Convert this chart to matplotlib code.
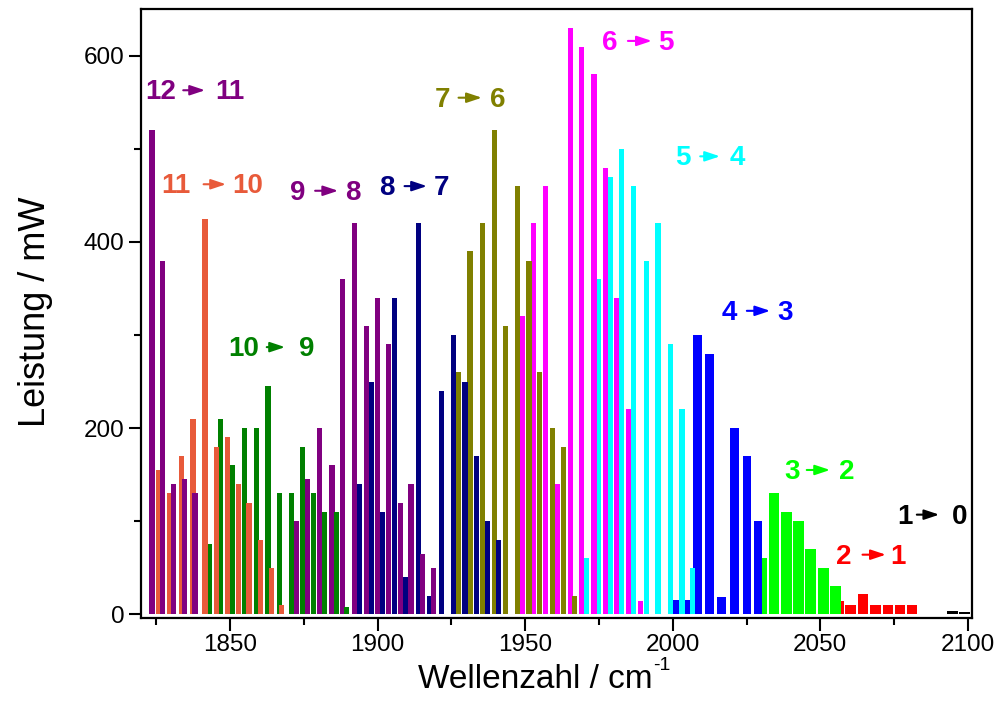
import matplotlib
matplotlib.use("Agg")
import matplotlib.pyplot as plt
from matplotlib.ticker import MultipleLocator

plt.rcParams['font.family'] = ['Liberation Sans', 'DejaVu Sans']

# ---- data (wavenumber / cm^-1, power / mW) ----
x_2_1 = [2056.3, 2060.2, 2064.4, 2068.7, 2072.9, 2077.0, 2081.1]
y_2_1 = [14, 10, 22, 10, 10, 10, 10]

x_3_2 = [2030.2, 2034.3, 2038.4, 2042.6, 2046.8, 2051.1, 2055.0]
y_3_2 = [60, 130, 110, 100, 70, 50, 30]

x_4_3 = [2000.8, 2005.0, 2008.4, 2012.4, 2016.5, 2020.9, 2025.1, 2029.0]
y_4_3 = [15, 15, 300, 280, 18, 200, 170, 100]

x_5_4 = [1970.6, 1974.8, 1978.8, 1982.7, 1986.7, 1991.0, 1995.0, 1999.1, 2003.1, 2006.8]
y_5_4 = [60, 360, 470, 500, 460, 380, 420, 290, 220, 50]

x_6_5 = [1949.2, 1952.8, 1957.0, 1961.0, 1965.2, 1969.2, 1973.3, 1977.1, 1981.0, 1985.0, 1989.0]
y_6_5 = [320, 420, 460, 140, 630, 610, 580, 480, 340, 220, 14]

x_7_6 = [1927.4, 1931.3, 1935.5, 1939.6, 1943.4, 1947.4, 1951.3, 1954.7, 1959.2, 1962.9, 1966.6]
y_7_6 = [260, 390, 420, 520, 310, 460, 380, 260, 200, 180, 20]

x_8_7 = [1893.7, 1897.8, 1901.7, 1905.7, 1909.6, 1913.8, 1917.5, 1921.7, 1925.6, 1929.6, 1933.4, 1937.2, 1941.0]
y_8_7 = [140, 250, 110, 340, 40, 420, 20, 240, 300, 250, 170, 100, 80]

x_9_8 = [1872.6, 1876.3, 1880.3, 1884.5, 1888.0, 1892.1, 1896.1, 1900.0, 1903.8, 1907.6, 1911.3, 1915.2, 1918.9]
y_9_8 = [100, 145, 200, 160, 360, 420, 310, 340, 290, 120, 140, 65, 50]

x_10_9 = [1843.0, 1846.8, 1850.9, 1854.8, 1859.0, 1862.8, 1866.7, 1870.7, 1874.6, 1878.2, 1881.9, 1885.9, 1889.5]
y_10_9 = [75, 210, 160, 200, 200, 245, 130, 130, 180, 130, 110, 110, 8]

x_11_10 = [1825.7, 1829.4, 1833.6, 1837.4, 1841.5, 1845.3, 1849.1, 1852.8, 1856.4, 1860.2, 1863.9, 1867.5]
y_11_10 = [155, 130, 170, 210, 425, 180, 190, 140, 120, 80, 50, 10]

x_12_11 = [1823.5, 1827.2, 1830.8, 1834.5, 1838.1]
y_12_11 = [520, 380, 140, 145, 130]

x_1_0 = [2094.7, 2098.9]
y_1_0 = [4, 2.5]

# band: (x, y, colour, bar width, left label, right label)
bands = [
    (x_1_0, y_1_0, '#000000', 3.6, '1', '0'),
    (x_2_1, y_2_1, '#FF0000', 3.6, '2', '1'),
    (x_3_2, y_3_2, '#00FF00', 3.7, '3', '2'),
    (x_4_3, y_4_3, '#0000FF', 2.8, '4', '3'),
    (x_5_4, y_5_4, '#00FFFF', 1.75, '5', '4'),
    (x_6_5, y_6_5, '#FF00FF', 1.75, '6', '5'),
    (x_7_6, y_7_6, '#808000', 1.75, '7', '6'),
    (x_8_7, y_8_7, '#000080', 1.75, '8', '7'),
    (x_9_8, y_9_8, '#800080', 1.75, '9', '8'),
    (x_10_9, y_10_9, '#008000', 1.75, '10', '9'),
    (x_11_10, y_11_10, '#E85A3A', 1.75, '11', '10'),
    (x_12_11, y_12_11, '#800080', 1.75, '12', '11'),
]

# label layout: left-number centre x, arrow start x, arrow end x, right-number centre x, y
label_pos = [
    (2078.6, 2082.7, 2090.3, 2097.2, 105),
    (2058.1, 2064.3, 2072.2, 2076.3, 62),
    (2040.3, 2045.4, 2053.3, 2059.0, 153),
    (2019.2, 2025.1, 2033.0, 2038.0, 324),
    (2003.3, 2009.3, 2016.0, 2021.8, 490),
    (1978.7, 1984.8, 1992.9, 1997.5, 614),
    (1922.0, 1927.4, 1935.3, 1940.6, 553),
    (1903.1, 1909.1, 1916.7, 1921.7, 458),
    (1872.8, 1878.8, 1886.6, 1891.5, 453),
    (1854.7, 1862.4, 1868.6, 1876.0, 285),
    (1831.5, 1841.0, 1848.6, 1855.8, 460),
    (1826.4, 1834.1, 1841.5, 1850.0, 561),
]

fig = plt.figure(figsize=(9.96, 7.14), dpi=100)
ax = fig.add_axes([0.1416, 0.1349, 0.8343, 0.8521])

for (xs, ys, c, w, l1, l2), (xl, xa0, xa1, xr, yl) in zip(bands, label_pos):
    ax.bar(xs, ys, width=w, color=c, linewidth=0)
    ax.text(xl, yl, l1, color=c, fontsize=20, fontweight='bold', ha='center', va='center')
    ax.text(xr, yl, l2, color=c, fontsize=20, fontweight='bold', ha='center', va='center')
    ax.annotate('', xy=(xa1, yl + 2), xytext=(xa0, yl + 2),
                arrowprops=dict(arrowstyle='-|>,head_length=0.9,head_width=0.3',
                                color=c, lw=1.5, shrinkA=0, shrinkB=0),
                annotation_clip=False)

ax.set_xlim(1819.8, 2101.4)
ax.set_ylim(-3.7, 650)
ax.xaxis.set_major_locator(MultipleLocator(50))
ax.xaxis.set_minor_locator(MultipleLocator(25))
ax.yaxis.set_major_locator(MultipleLocator(200))
ax.yaxis.set_minor_locator(MultipleLocator(100))

for s in ax.spines.values():
    s.set_linewidth(1.6)
ax.tick_params(which='major', direction='out', length=9, width=1.5, labelsize=17.5, pad=3)
ax.tick_params(which='minor', direction='out', length=5, width=1.5)
ax.tick_params(top=False, right=False)

# axis titles
fig.text(0.537, 0.036, 'Wellenzahl / cm', fontsize=24, ha='center', va='baseline')
fig.canvas.draw()
xl_txt = fig.texts[-1]
bb = xl_txt.get_window_extent(renderer=fig.canvas.get_renderer())
fig.text((bb.x1 + 1) / fig.bbox.width, (bb.y1 - 6) / fig.bbox.height, '-1', fontsize=14,
         ha='left', va='baseline')
fig.text(0.036, 0.564, 'Leistung / mW', fontsize=26, rotation=90, ha='center', va='center')

fig.savefig('out.png', dpi=100)
